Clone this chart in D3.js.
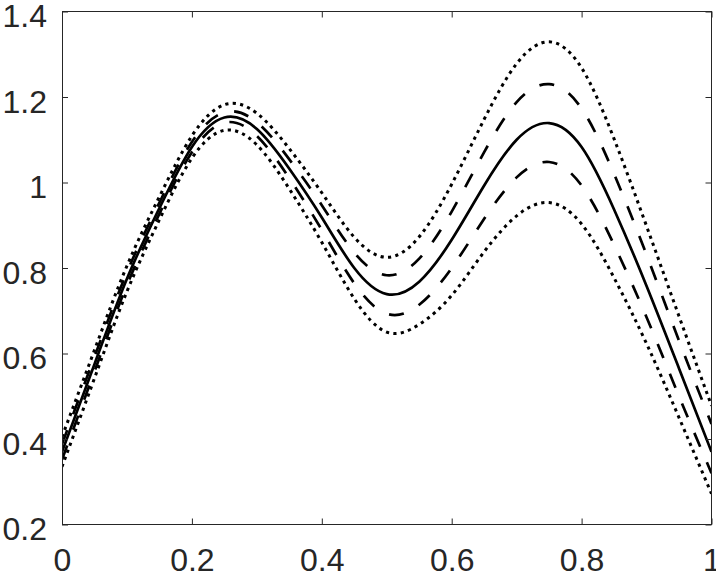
<!DOCTYPE html>
<html>
<head>
<meta charset="utf-8">
<script src="https://cdn.jsdelivr.net/npm/d3@7"></script>
<style>
  html, body { margin: 0; padding: 0; background: #fff; }
  svg { display: block; }
</style>
</head>
<body>
<svg id="chart" width="716" height="573"></svg>
<script>
// ---- data ----
const xValues = [0, 0.05, 0.1, 0.15, 0.2, 0.25, 0.3, 0.35, 0.4, 0.45, 0.5,
                 0.55, 0.6, 0.65, 0.7, 0.75, 0.8, 0.85, 0.9, 0.95, 1.0];
const center    = [0.37, 0.575, 0.775, 0.94, 1.083, 1.152, 1.125, 1.032, 0.918, 0.8, 0.739,
                   0.768, 0.866, 0.993, 1.1, 1.139, 1.083, 0.937, 0.758, 0.565, 0.37];
const dashUpper = [0.388, 0.592, 0.79, 0.953, 1.095, 1.164, 1.141, 1.054, 0.947, 0.836, 0.783,
                   0.822, 0.932, 1.071, 1.188, 1.23, 1.173, 1.02, 0.831, 0.63, 0.435];
const dashLower = [0.352, 0.558, 0.76, 0.927, 1.071, 1.14, 1.109, 1.01, 0.889, 0.764, 0.693,
                   0.714, 0.8, 0.915, 1.012, 1.048, 0.993, 0.854, 0.685, 0.5, 0.32];
const dotUpper  = [0.405, 0.608, 0.805, 0.967, 1.109, 1.182, 1.162, 1.079, 0.976, 0.872, 0.825,
                   0.873, 0.996, 1.148, 1.278, 1.329, 1.268, 1.102, 0.898, 0.687, 0.478];
const dotLower  = [0.335, 0.542, 0.745, 0.913, 1.057, 1.122, 1.088, 0.985, 0.86, 0.728, 0.65,
                   0.668, 0.736, 0.838, 0.922, 0.953, 0.903, 0.777, 0.623, 0.45, 0.272];

const xTicks = [0, 0.2, 0.4, 0.6, 0.8, 1];
const xTickLabels = ["0", "0.2", "0.4", "0.6", "0.8", "1"];
const yTicks = [0.2, 0.4, 0.6, 0.8, 1.0, 1.2, 1.4];
const yTickLabels = ["0.2", "0.4", "0.6", "0.8", "1", "1.2", "1.4"];

// ---- layout ----
const margin = { left: 62, top: 11.5, right: 4.5, bottom: 48.5 };
const W = 716, H = 573;
const iw = W - margin.left - margin.right;
const ih = H - margin.top - margin.bottom;
const axisColor = "#262626";
const fontFamily = "'Liberation Sans', Arial, Helvetica, sans-serif";

const svg = d3.select("#chart");
const g = svg.append("g").attr("transform", `translate(${margin.left},${margin.top})`);

const x = d3.scaleLinear().domain([0, 1]).range([0, iw]);
const y = d3.scaleLinear().domain([0.2, 1.4]).range([ih, 0]);

g.append("clipPath").attr("id", "clip")
  .append("rect").attr("width", iw).attr("height", ih);

const series = [
  { values: dotUpper,  dash: "3.2,4.3" },
  { values: dotLower,  dash: "3.2,4.3" },
  { values: dashUpper, dash: "15,17" },
  { values: dashLower, dash: "15,17" },
  { values: center,    dash: null }
];

const line = d3.line()
  .x(d => x(d[0]))
  .y(d => y(d[1]))
  .curve(d3.curveNatural);

const lines = g.append("g").attr("clip-path", "url(#clip)");
series.forEach(s => {
  lines.append("path")
    .datum(xValues.map((xv, i) => [xv, s.values[i]]))
    .attr("d", line)
    .attr("fill", "none")
    .attr("stroke", "#000")
    .attr("stroke-width", s.dash && s.dash.startsWith("3") ? 3 : 2.7)
    .attr("stroke-dasharray", s.dash)
    .attr("stroke-linecap", "butt")
    .attr("stroke-linejoin", "round");
});

// ---- axes ----
function styleAxis(sel) {
  sel.select(".domain").remove();
  sel.selectAll(".tick line").attr("stroke", axisColor).attr("stroke-width", 1);
  sel.selectAll(".tick text")
    .attr("fill", axisColor)
    .style("font-family", fontFamily)
    .style("font-size", "32px");
}

const yAxis = g.append("g")
  .call(d3.axisLeft(y).tickValues(yTicks)
    .tickFormat((d, i) => yTickLabels[i])
    .tickSizeInner(-6).tickSizeOuter(0).tickPadding(15));
styleAxis(yAxis);
yAxis.selectAll(".tick text").attr("dy", "0.47em");

const xAxis = g.append("g").attr("transform", `translate(0,${ih})`)
  .call(d3.axisBottom(x).tickValues(xTicks)
    .tickFormat((d, i) => xTickLabels[i])
    .tickSizeInner(-6).tickSizeOuter(0).tickPadding(24));
styleAxis(xAxis);

const yAxisR = g.append("g").attr("transform", `translate(${iw},0)`)
  .call(d3.axisRight(y).tickValues(yTicks).tickFormat("")
    .tickSizeInner(-6).tickSizeOuter(0));
styleAxis(yAxisR);

const xAxisT = g.append("g")
  .call(d3.axisTop(x).tickValues(xTicks).tickFormat("")
    .tickSizeInner(-6).tickSizeOuter(0));
styleAxis(xAxisT);

g.append("rect")
  .attr("x", 0).attr("y", 0).attr("width", iw).attr("height", ih)
  .attr("fill", "none").attr("stroke", axisColor).attr("stroke-width", 1)
  .attr("shape-rendering", "crispEdges");
</script>
</body>
</html>
